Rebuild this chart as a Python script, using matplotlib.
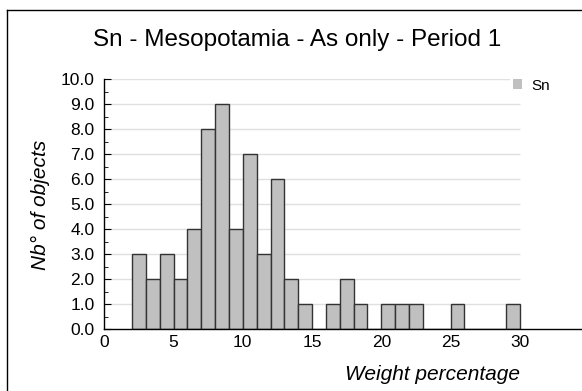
import numpy as np
import matplotlib.pyplot as plt
from matplotlib.lines import Line2D
from matplotlib.ticker import MultipleLocator, FormatStrFormatter

plt.rcParams['font.family'] = ['Liberation Sans', 'DejaVu Sans']

# histogram bins (left edges, width 1 wt%) and counts
bin_left = np.arange(2, 30)
counts = [3, 2, 3, 2, 4, 8, 9, 4, 7, 3, 6, 2, 1, 0,
          1, 2, 1, 0, 1, 1, 1, 0, 0, 1, 0, 0, 0, 1]
x_ticks = [0, 5, 10, 15, 20, 25, 30]

W, H = 582, 391
fig = plt.figure(figsize=(W / 100, H / 100), dpi=100)
ax = fig.add_axes([104.3 / W, (H - 329.3) / H, (W - 104.3) / W, (329.3 - 79) / H])

# light grid lines, only across the data range
ax.hlines(np.arange(1, 11), 0, 30, color='#e0e0e0', lw=1, zorder=0)

bars = ax.bar(bin_left, counts, width=1, align='edge', color='#c0c0c0',
              edgecolor='#333333', linewidth=1, zorder=2, label='Sn')

ax.set_xlim(0, (W - 104.3) / 13.85)
ax.set_ylim(0, 10)
ax.set_xticks(x_ticks)
ax.yaxis.set_major_locator(MultipleLocator(1))
ax.yaxis.set_minor_locator(MultipleLocator(0.5))
ax.yaxis.set_major_formatter(FormatStrFormatter('%.1f'))
ax.tick_params(axis='x', length=0, labelsize=12.5, pad=4)
ax.tick_params(axis='y', which='major', direction='in', length=5, labelsize=12.5, pad=7)
ax.tick_params(axis='y', which='minor', direction='in', length=3)

for s in ['top', 'right']:
    ax.spines[s].set_visible(False)
for s in ['left', 'bottom']:
    ax.spines[s].set_linewidth(1)

leg = ax.legend(loc='upper left', bbox_to_anchor=(502 / W, 1 - 68 / H),
                bbox_transform=fig.transFigure, frameon=True, fancybox=False,
                handlelength=0.6, handleheight=0.6, handletextpad=0.6,
                borderpad=0.2, fontsize=11)
leg.get_frame().set_edgecolor('none')
leg.get_frame().set_facecolor('white')
leg.get_frame().set_alpha(1)
for h in leg.legend_handles:
    h.set_edgecolor('none')

fig.text(297 / W, 1 - 40 / H, 'Sn - Mesopotamia - As only - Period 1',
         ha='center', va='center', fontsize=17.5)
fig.text(520 / W, 1 - 374 / H, 'Weight percentage', ha='right', va='center',
         fontsize=15, style='italic')
fig.text(40 / W, 1 - 205 / H, 'Nb° of objects', ha='center', va='center',
         rotation=90, fontsize=15, style='italic')

# outer frame (cut off at the right and bottom)
fig.add_artist(Line2D([7 / W, 7 / W], [0, 1 - 10 / H], color='black', lw=1))
fig.add_artist(Line2D([7 / W, 1], [1 - 10 / H, 1 - 10 / H], color='black', lw=1))

fig.savefig('out.png', dpi=100)
